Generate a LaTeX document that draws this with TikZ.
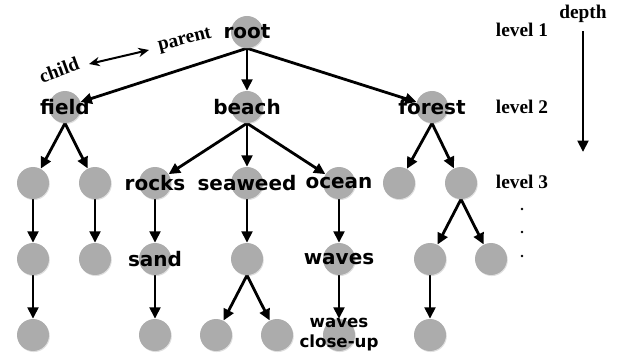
\documentclass[tikz,border=0pt]{standalone}
\usepackage{fontspec}
\setmainfont{Liberation Serif}
\newfontfamily\tagfont{DejaVu Sans}
\usepackage{tikz}
\usetikzlibrary{arrows.meta, shadows, backgrounds}
\definecolor{nodegray}{RGB}{172,172,172}
\tikzset{
  vertex/.style={circle, fill=nodegray, minimum size=24pt, inner sep=0pt,
    drop shadow={opacity=0.25, shadow xshift=0.6pt, shadow yshift=-0.8pt},
    label={[tag]center:#1}},
  vertex/.default={},
  tag/.style={font=\tagfont\bfseries\fontsize{15}{18}\selectfont, align=center},
  edge/.style={-{Triangle[length=8.5pt, width=8pt]}, line width=2.1pt},
  lvl/.style={font=\bfseries\fontsize{14.5}{17}\selectfont}
}
\begin{document}
\begin{tikzpicture}[x=0.75pt, y=-0.75pt]
      \useasboundingbox (0, 0) rectangle (618, 356);

      % level 1 and 2
      \node[vertex=root] (root) at (247, 32) {};
      \node[vertex=field] (field) at (65, 107) {};
      \node[vertex=beach] (beach) at (247, 107) {};
      \node[vertex=forest] (forest) at (432, 107) {};

      % level 3
      \node[vertex] (fa) at (33, 183) {};
      \node[vertex] (fb) at (95, 183) {};
      \node[vertex=rocks] (rocks) at (155, 183) {};
      \node[vertex=seaweed] (seaweed) at (247, 183) {};
      \node[vertex=ocean] (ocean) at (339, 183) {};
      \node[vertex] (ta) at (399, 183) {};
      \node[vertex] (tb) at (461, 183) {};

      % level 4
      \node[vertex] (fa2) at (33, 259) {};
      \node[vertex] (fb2) at (95, 259) {};
      \node[vertex=sand] (sand) at (155, 259) {};
      \node[vertex] (sw2) at (247, 259) {};
      \node[vertex=waves] (waves) at (339, 259) {};
      \node[vertex] (tba) at (430, 259) {};
      \node[vertex] (tbb) at (491, 259) {};

      % level 5
      \node[vertex] (fa3) at (33, 335) {};
      \node[vertex] (sa3) at (155, 335) {};
      \node[vertex] (swa) at (216, 335) {};
      \node[vertex] (swb) at (277, 335) {};
      \node[vertex] (closeup) at (339, 335) {};
      \node[tag, font=\tagfont\bfseries\fontsize{12.5}{15}\selectfont] at (closeup) {waves\\close-up};
      \node[vertex] (tba3) at (430, 335) {};

      \begin{scope}[on background layer]
        \draw[edge] (root.south) -- (field);
        \draw[edge] (root.south) -- (beach);
        \draw[edge] (root.south) -- (forest);

        \draw[edge] (field.south) -- (fa);
        \draw[edge] (field.south) -- (fb);
        \draw[edge] (beach.south) -- (rocks);
        \draw[edge] (beach.south) -- (seaweed);
        \draw[edge] (beach.south) -- (ocean);
        \draw[edge] (forest.south) -- (ta);
        \draw[edge] (forest.south) -- (tb);

        \draw[edge] (fa) -- (fa2);
        \draw[edge] (fa2) -- (fa3);
        \draw[edge] (fb) -- (fb2);
        \draw[edge] (rocks) -- (sand);
        \draw[edge] (sand) -- (sa3);
        \draw[edge] (seaweed) -- (sw2);
        \draw[edge] (sw2.south) -- (swa);
        \draw[edge] (sw2.south) -- (swb);
        \draw[edge] (ocean) -- (waves);
        \draw[edge] (waves) -- (closeup);
        \draw[edge] (tb.south) -- (tba);
        \draw[edge] (tb.south) -- (tbb);
        \draw[edge] (tba) -- (tba3);
      \end{scope}

      % child / parent
      \node[lvl, rotate=20, inner sep=1pt] (child) at (59, 70) {child};
      \node[lvl, rotate=14, inner sep=1pt] (parent) at (185, 41) {parent};
      \coordinate (cl) at (89, 64);
      \coordinate (pl) at (149, 50);
      \draw[{Stealth[length=8pt, width=7pt]}-{Stealth[length=8pt, width=7pt]}, line width=1.5pt] (cl) -- (pl);

      % levels and depth
      \node[lvl] (l1) at (522, 30) {level 1};
      \node[lvl] (l2) at (522, 107) {level 2};
      \node[lvl] (l3) at (522, 182) {level 3};
      \node[lvl] (depth) at (583, 14) {depth};
      \coordinate (dend) at (583, 152);
      \draw[edge] (depth.south) ++(0, 4) -- (dend);
      \foreach \y in {209, 232, 256}
        \fill (522, \y) circle (1.3);
\end{tikzpicture}
\end{document}
